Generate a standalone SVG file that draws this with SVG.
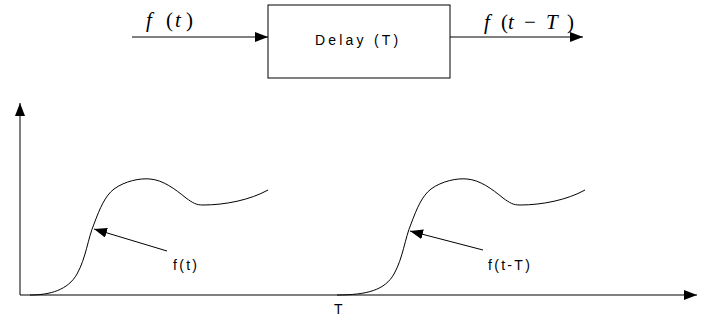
<svg xmlns="http://www.w3.org/2000/svg" width="716" height="322" viewBox="0 0 716 322">
<style>
.ln{fill:none;stroke:#000;stroke-width:1}
.lbl{font-family:"Liberation Sans",Arial,sans-serif;font-size:14px;fill:#000}
.math{font-family:"Liberation Serif","Times New Roman",serif;font-size:21px;fill:#000}
.it{font-style:italic}
</style>
<defs>
<marker id="ah" markerUnits="userSpaceOnUse" markerWidth="14" markerHeight="12" refX="13" refY="5" orient="auto">
<path d="M0,0 L13,5 L0,10 Z" fill="#000"/>
</marker>
</defs>
<g id="connectors">
<line class="ln" x1="132" y1="37" x2="268" y2="37" marker-end="url(#ah)"/>
<line class="ln" x1="450" y1="37" x2="583" y2="37" marker-end="url(#ah)"/>
<line class="ln" x1="20" y1="295" x2="20" y2="103" marker-end="url(#ah)"/>
<line class="ln" x1="20" y1="295" x2="697" y2="295" marker-end="url(#ah)"/>
<line class="ln" x1="167" y1="251" x2="94" y2="229" marker-end="url(#ah)"/>
<line class="ln" x1="483" y1="250" x2="410" y2="231" marker-end="url(#ah)"/>
</g>
<g id="delay">
<rect x="268" y="5" width="182" height="73" fill="#fff" stroke="#000" stroke-width="1"/>
<text class="lbl" x="315" y="45" letter-spacing="3.2">Delay (T)</text>
</g>
<g id="input-label">
<text class="math"><tspan class="it" x="146" y="27">f</tspan><tspan x="166" y="27">(</tspan><tspan class="it" x="175" y="27">t</tspan><tspan x="186" y="27">)</tspan></text>
</g>
<g id="output-label">
<text class="math"><tspan class="it" x="484" y="29">f</tspan><tspan x="501" y="29">(</tspan><tspan class="it" x="508" y="29">t</tspan><tspan x="524" y="29">−</tspan><tspan class="it" x="546" y="29">T</tspan><tspan x="567" y="29">)</tspan></text>
</g>
<g id="curve1">
<path class="ln" d="M30,295 C50,295 68,290 77,274 C86,258 88,238 94,224 C100,208 105,196 114,189 C125,181 140,178 150,179 C163,180 175,189 186,198 C193,203 196,205 203,205 C225,205 250,200 268,190"/>
<text class="lbl" x="173" y="270" letter-spacing="2.3">f(t)</text>
</g>
<g id="curve2">
<path class="ln" transform="translate(317,0)" d="M20,295 C50,295 68,290 77,274 C86,258 88,238 94,224 C100,208 105,196 114,189 C125,181 140,178 150,179 C163,180 175,189 186,198 C193,203 196,205 203,205 C225,205 250,200 268,190"/>
<text class="lbl" x="488" y="270" letter-spacing="2.3">f(t-T)</text>
</g>
<g id="t-mark">
<text class="lbl" x="334" y="314">T</text>
</g>
</svg>
